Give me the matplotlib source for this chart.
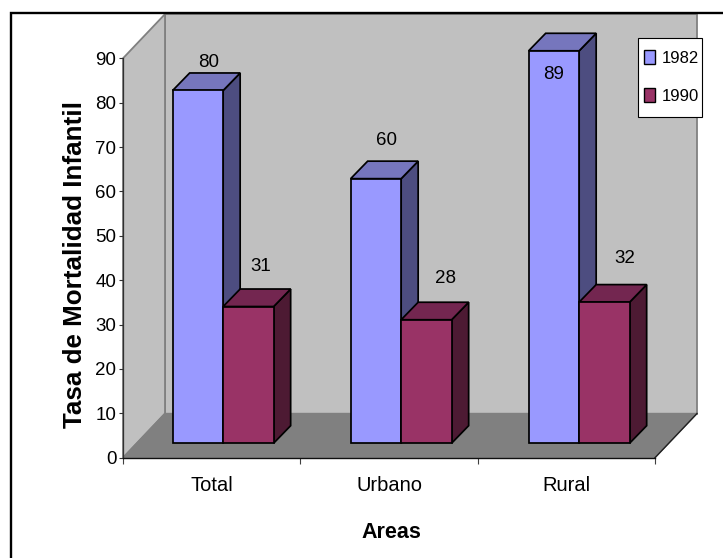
import matplotlib
matplotlib.use("Agg")
import matplotlib.pyplot as plt
from matplotlib.legend_handler import HandlerBase
from matplotlib.lines import Line2D
from matplotlib.patches import Polygon, Rectangle

categories = ["Total", "Urbano", "Rural"]
series_names = ["1982", "1990"]
values_1982 = [80, 60, 89]
values_1990 = [31, 28, 32]
y_ticks = list(range(0, 100, 10))

W, H = 723, 558
plt.rcParams["font.family"] = ["Liberation Sans", "DejaVu Sans"]
fig = plt.figure(figsize=(W / 100, H / 100), dpi=100, facecolor="white")
L, R, T, B = 123, 655, 58.3, 457.7
ax = fig.add_axes([L / W, 1 - B / H, (R - L) / W, (B - T) / H])
ax.set_xlim(0, 3)
ax.set_ylim(0, 90)
ax.patch.set_visible(False)
ux = 3 / (R - L)
uy = 90 / (B - T)


def shift(x, y, dx, dy):
    return (x + dx * ux, y + dy * uy)


# walls and floor
WDX, WDY = 42, 44.2
kw = dict(clip_on=False)
ax.add_patch(Polygon([shift(0, 0, WDX, WDY), shift(3, 0, WDX, WDY), shift(3, 90, WDX, WDY), shift(0, 90, WDX, WDY)],
                     fc="#C0C0C0", ec="#808080", lw=1.3, zorder=1, **kw))
ax.add_patch(Polygon([(0, 0), shift(0, 0, WDX, WDY), shift(0, 90, WDX, WDY), (0, 90)],
                     fc="#C0C0C0", ec="#808080", lw=1.3, zorder=1.1, **kw))
ax.add_patch(Polygon([(0, 0), (3, 0), shift(3, 0, WDX, WDY), shift(0, 0, WDX, WDY)],
                     fc="#808080", ec="#808080", lw=1, zorder=1.2, **kw))
ax.plot([3, shift(3, 0, WDX, WDY)[0]], [0, shift(3, 0, WDX, WDY)[1]], color="#202020", lw=1, zorder=1.3, clip_on=False)

# bars
BASE = 3.27
SCALE = 0.9935
BW = 50.5 * ux
SPACING = 1.0038
FIRST = 0.28
DDX, DDY = 17, 17.5
EDGE = 1.25
styles = [("#9999FF", "#7676BD", "#4D4D80"), ("#993366", "#732650", "#4D1A33")]
label_off = [[(11, 28), (11, 38), (0, -24)], [(12, 40), (19, 41), (20, 44)]]
handles = []
for s, vals in enumerate([values_1982, values_1990]):
    front, top, side = styles[s]
    for i, v in enumerate(vals):
        x0 = FIRST + i * SPACING + s * BW
        x1 = x0 + BW
        y1 = BASE + v * SCALE
        z = 3 + i * 2 + s * 0.5
        ax.add_patch(Polygon([(x1, BASE), shift(x1, BASE, DDX, DDY), shift(x1, y1, DDX, DDY), (x1, y1)],
                             fc=side, ec="black", lw=EDGE, joinstyle="miter", zorder=z, **kw))
        ax.add_patch(Polygon([(x0, y1), shift(x0, y1, DDX, DDY), shift(x1, y1, DDX, DDY), (x1, y1)],
                             fc=top, ec="black", lw=EDGE, joinstyle="miter", zorder=z, **kw))
        bars = ax.bar(x0, v * SCALE, width=BW, bottom=BASE, align="edge", color=front, ec="black", lw=EDGE,
                      zorder=z + 0.1)
        bars[0].set_clip_on(False)
        off = label_off[s][i]
        ax.annotate(str(v), xy=(x0 + BW / 2, y1), xytext=off, textcoords="offset pixels",
                    ha="center", va="center", fontsize=13.5, color="black", zorder=20,
                    annotation_clip=False)
    handles.append(Rectangle((0, 0), 1, 1, fc=front, ec="black", lw=1))

# axes
for sp in ("top", "right"):
    ax.spines[sp].set_visible(False)
ax.spines["left"].set_color("#303030")
ax.spines["bottom"].set_color("#101010")
ax.spines["left"].set_zorder(2)
ax.spines["bottom"].set_zorder(2)
ax.spines["left"].set_linewidth(0.9)
ax.spines["bottom"].set_linewidth(1)
ax.set_yticks(y_ticks)
ax.set_xticks([0, 1, 2, 3])
ax.set_xticklabels([])
ax.set_xticks([0.5, 1.5, 2.5], minor=True)
ax.set_xticklabels(categories, minor=True)
ax.tick_params(axis="y", length=3.2, width=0.8, color="#303030", labelsize=13.5, pad=1.5)
ax.tick_params(axis="x", which="major", length=4.5, width=0.8, color="#404040")
ax.tick_params(axis="x", which="minor", length=0, labelsize=14.5, pad=13)
ax.set_ylabel("Tasa de Mortalidad Infantil", fontsize=18.7, fontweight="bold", va="center")
ax.yaxis.set_label_coords((75.5 - L) / (R - L), (B - 264) / (B - T))
ax.set_xlabel("Areas", fontsize=15.5, fontweight="bold", va="center")
ax.xaxis.set_label_coords((391.5 - L) / (R - L), (B - 533) / (B - T))


# legend: swatches sit at the right of a wider handle box, centred on the digits
class Swatch(HandlerBase):
    def create_artists(self, legend, orig, xdescent, ydescent, width, height, fontsize, trans):
        w, h = 7.9, 10.1
        r = Rectangle((width - xdescent - w, 0.36 * fontsize - h / 2), w, h,
                      fc=orig.get_facecolor(), ec="black", lw=1, transform=trans)
        return [r]


LEG_FS = 12
leg = ax.legend(handles, series_names, loc="upper left",
                bbox_to_anchor=(638.3 / W, 1 - 38.3 / H), bbox_transform=fig.transFigure,
                handler_map={Rectangle: Swatch()},
                fontsize=LEG_FS, frameon=True, fancybox=False, framealpha=1, edgecolor="black",
                borderpad=0.21, labelspacing=0.276, handlelength=0.81, handleheight=2.7,
                handletextpad=0.36, borderaxespad=0)
leg.get_frame().set_linewidth(0.8)
leg.set_zorder(30)

# chart area frame
fig.add_artist(Line2D([10.5 / W, 10.5 / W, 1], [0, 1 - 13 / H, 1 - 13 / H], color="black", lw=1.7,
                      solid_joinstyle="miter", zorder=40))

fig.savefig("out.png", dpi=100)
